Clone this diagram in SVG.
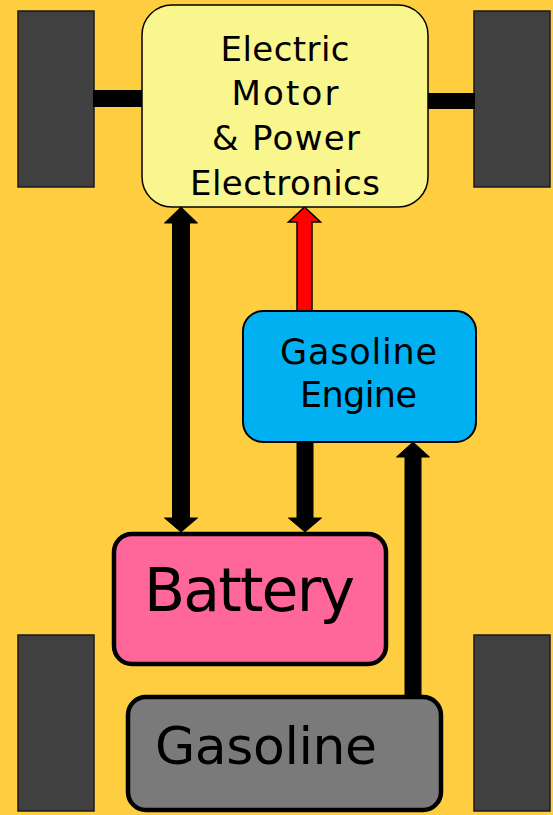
<svg xmlns="http://www.w3.org/2000/svg" width="553" height="815" viewBox="0 0 553 815">
<style>
.wheel{fill:#404040;stroke:#1a1a1a;stroke-width:1.5}
.axle{fill:#000}
.t{font-family:"DejaVu Sans","Liberation Sans",sans-serif;fill:#000;text-anchor:middle}
.arrow{fill:#000;stroke:#000;stroke-width:1}
.red{fill:#FF0000;stroke:#000;stroke-width:1.5}
</style>
<rect x="0" y="0" width="553" height="815" fill="#FFCD40"/>
<g id="wheels">
<rect class="wheel" x="18" y="11" width="76" height="176"/>
<rect class="wheel" x="474" y="11" width="76" height="176"/>
<rect class="wheel" x="18" y="635" width="76" height="176"/>
<rect class="wheel" x="474" y="635" width="76" height="176"/>
</g>
<g id="axles">
<rect class="axle" x="93" y="90" width="50" height="17"/>
<rect class="axle" x="427" y="93" width="48" height="16"/>
</g>
<g id="connectors">
<polygon class="arrow" points="181,207 197.5,223 189.5,223 189.5,518 197.5,518 181,532 164.5,518 172.5,518 172.5,223 164.5,223"/>
<polygon class="red" points="304.5,207 320.5,222 312,222 312,312 297,312 297,222 288.5,222"/>
<polygon class="arrow" points="297,441 313,441 313,518 321.5,518 305,532 288.5,518 297,518"/>
<polygon class="arrow" points="413,442 429.5,457 421,457 421,696 405,696 405,457 396.5,457"/>
</g>
<g id="motor">
<rect x="142" y="5" width="286" height="202" rx="30" fill="#F9F68E" stroke="#000" stroke-width="1.5"/>
<text class="t" font-size="34" x="285" y="61" textLength="129">Electric</text>
<text class="t" font-size="34" x="285" y="105" textLength="107">Motor</text>
<text class="t" font-size="34" x="286" y="150" textLength="148">&amp; Power</text>
<text class="t" font-size="34" x="285" y="195" textLength="190">Electronics</text>
</g>
<g id="engine">
<rect x="243" y="311" width="233" height="131" rx="20" fill="#00B0F0" stroke="#000" stroke-width="2"/>
<text class="t" font-size="35" x="358.5" y="364" textLength="157">Gasoline</text>
<text class="t" font-size="35" x="358.5" y="407" textLength="117">Engine</text>
</g>
<g id="battery">
<rect x="114" y="534" width="272" height="130" rx="18" fill="#FF6699" stroke="#000" stroke-width="4.5"/>
<text class="t" font-size="60" x="249.5" y="611" textLength="211">Battery</text>
</g>
<g id="gasoline">
<rect x="128" y="697" width="313" height="113" rx="18" fill="#7A7A7A" stroke="#000" stroke-width="4.5"/>
<text class="t" font-size="52" x="266" y="764" textLength="222">Gasoline</text>
</g>
</svg>
